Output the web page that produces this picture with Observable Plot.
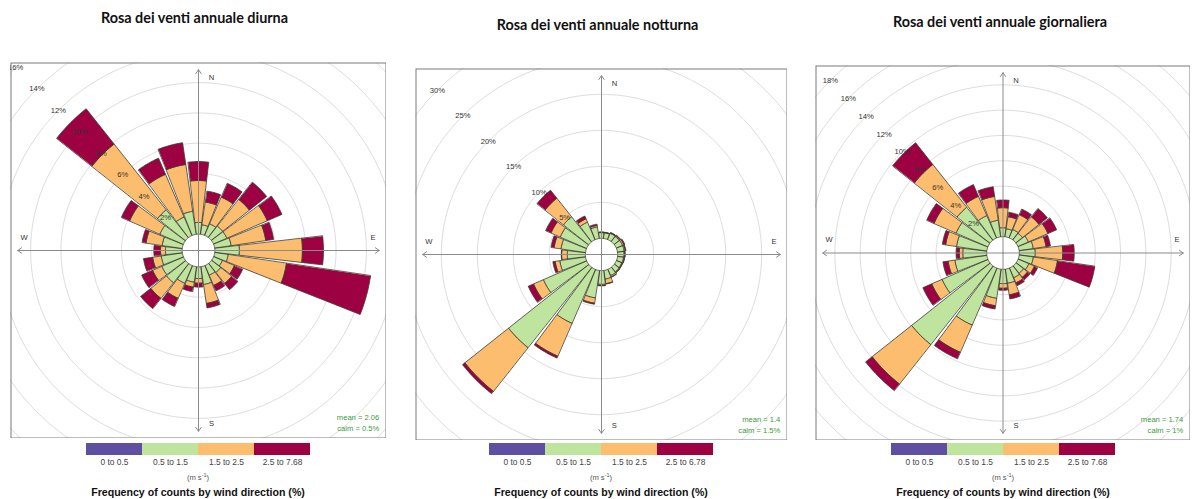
<!DOCTYPE html>
<html><head><meta charset="utf-8">
<script src="https://cdn.jsdelivr.net/npm/d3@7"></script>
<script src="https://cdn.jsdelivr.net/npm/@observablehq/plot@0.6"></script>
<style>
html,body{margin:0;padding:0;background:#fff;}
#root{position:relative;width:1197px;height:499px;overflow:hidden;font-family:"Liberation Sans",Arial,sans-serif;}
.title{position:absolute;font-family:Lato,"Open Sans",sans-serif;font-weight:700;font-size:14.4px;color:#111;white-space:nowrap;transform:translate(-50%,-50%);}
.abs{position:absolute;}
.unit{position:absolute;font-size:7.6px;color:#555;transform:translate(-50%,-50%);white-space:nowrap;}
.freq{position:absolute;font-size:10.6px;font-weight:700;color:#111;transform:translate(-50%,-50%);white-space:nowrap;}
</style></head><body><div id="root"></div>
<script>
// ---------- data ----------
const directions = [0,15,30,45,60,75,90,105,120,135,150,165,180,195,210,225,240,255,270,285,300,315,330,345];
const classColors = ["#5E4FA2","#BEE49E","#FDBD6F","#9E0142"];
const classesDiurna = ["0 to 0.5","0.5 to 1.5","1.5 to 2.5","2.5 to 7.68"];
const classesNotturna = ["0 to 0.5","0.5 to 1.5","1.5 to 2.5","2.5 to 6.78"];
const classesGiornaliera = ["0 to 0.5","0.5 to 1.5","1.5 to 2.5","2.5 to 7.68"];

const diurnaGreen  = [0.77,0.63,0.83,0.96,0.96,1.10,1.62,0.90,0.63,0.77,0.70,1.19,0.77,1.03,1.27,1.62,1.56,1.41,1.10,1.34,1.69,2.35,1.33,1.54];
const diurnaOrange = [2.77,1.52,1.92,2.25,2.91,2.31,4.16,3.89,0.86,0.92,0.73,1.26,0.31,0.33,1.08,1.32,0.66,0.57,0.33,1.08,2.18,5.54,3.07,3.12];
const diurnaRed    = [1.25,0.73,0.99,1.45,1.05,0.52,1.39,5.61,0.60,0.53,0.39,0.30,0.26,0.30,0.59,0.86,0.79,0.61,0.44,0.26,0.59,2.97,1.16,1.45];

const notturnaGreen  = [0.80,0.80,0.94,0.90,0.95,0.95,0.90,0.85,0.80,0.85,0.95,1.21,1.91,3.85,8.16,14.24,6.56,3.62,2.51,3.44,3.99,4.45,2.66,1.63];
const notturnaOrange = [0.05,0.05,0.08,0.15,0.20,0.15,0.10,0.10,0.10,0.10,0.20,0.64,0.14,0.74,4.97,7.74,1.49,0.65,0.79,0.97,1.39,3.29,0.50,0.21];
const notturnaRed    = [0.03,0.03,0.05,0.10,0.15,0.10,0.05,0.05,0.05,0.05,0.05,0.06,0.07,0.14,0.28,0.41,0.80,0.32,0.05,0.42,0.81,1.42,0.42,0.18];

const giornGreen  = [0.71,0.64,0.72,0.67,0.90,1.13,1.26,1.13,0.92,0.76,0.84,1.13,1.13,2.33,4.91,7.93,3.96,2.56,1.89,2.42,2.74,3.32,1.93,1.33];
const giornOrange = [1.58,0.96,1.28,1.67,1.68,1.02,2.17,1.93,0.48,0.40,0.44,0.92,0.37,0.59,2.34,3.98,0.89,0.54,0.27,0.87,1.90,4.32,1.66,1.90];
const giornRed    = [0.61,0.35,0.48,0.84,0.75,0.35,0.91,2.98,0.28,0.25,0.24,0.33,0.16,0.26,0.56,0.66,0.76,0.41,0.26,0.26,0.63,2.19,1.01,0.77];

const ringsDiurna = [2,4,6,8,10,12,14,16];
const ringsNotturna = [5,10,15,20,25,30];
const ringsGiorn = [2,4,6,8,10,12,14,16,18];

const titles = ["Rosa dei venti annuale diurna","Rosa dei venti annuale notturna","Rosa dei venti annuale giornaliera"];
const meanValues = ["2.06","1.4","1.74"];
const calmValues = ["0.5%","1.5%","1%"];

// ---------- layout ----------
const panels = [
  {title: titles[0], tx:194.5, ty:17, left:10, top:62, w:376, h:376, off:1.08, D:12.41,
   classes: classesDiurna, series:[diurnaGreen, diurnaOrange, diurnaRed], rings: ringsDiurna,
   mean: meanValues[0], calm: calmValues[0], legLeft:85},
  {title: titles[1], tx:597.5, ty:24, left:415, top:68, w:372, h:372, off:2.24, D:25.83,
   classes: classesNotturna, series:[notturnaGreen, notturnaOrange, notturnaRed], rings: ringsNotturna,
   mean: meanValues[1], calm: calmValues[1], legLeft:488},
  {title: titles[2], tx:1000, ty:20.5, left:815, top:65, w:375, h:375, off:1.29, D:14.82,
   classes: classesGiornaliera, series:[giornGreen, giornOrange, giornRed], rings: ringsGiorn,
   mean: meanValues[2], calm: calmValues[2], legLeft:890}
];
const halfWidth = 6.6; // degrees

const root = document.getElementById("root");
const rad = Math.PI / 180;

function rose(p) {
  const A = p.D / 1.04;
  const segClasses = p.classes.slice(1);
  const pts = [];
  directions.forEach((dir, i) => {
    let r0 = p.off;
    p.series.forEach((vals, j) => {
      const v = vals[i];
      const r1 = r0 + v;
      if (v > 0) {
        const id = i + "-" + j, cls = segClasses[j];
        const a0 = (dir - halfWidth) * rad, a1 = (dir + halfWidth) * rad, n = 8;
        for (let k = 0; k <= n; k++) { const a = a0 + (a1 - a0) * k / n; pts.push({id, cls, x: r1 * Math.sin(a), y: r1 * Math.cos(a)}); }
        for (let k = n; k >= 0; k--) { const a = a0 + (a1 - a0) * k / n; pts.push({id, cls, x: r0 * Math.sin(a), y: r0 * Math.cos(a)}); }
      }
      r0 = r1;
    });
  });
  const ringPts = [];
  p.rings.forEach(v => {
    const r = v + p.off;
    for (let k = 0; k <= 240; k++) { const a = k / 240 * 2 * Math.PI; ringPts.push({ring: v, x: r * Math.sin(a), y: r * Math.cos(a)}); }
  });
  const ringLabels = p.rings.map(v => ({label: v + "%", x: -(v + p.off) * Math.SQRT1_2, y: (v + p.off) * Math.SQRT1_2}));
  const arrows = [
    {x1:0,y1:0,x2:0,y2:A},{x1:0,y1:0,x2:0,y2:-A},{x1:0,y1:0,x2:-A,y2:0},{x1:0,y1:0,x2:A,y2:0}
  ];
  const compass = [
    {t:"N", x:0.072*A, y:0.958*A},{t:"S", x:0.072*A, y:-0.958*A},
    {t:"W", x:-0.965*A, y:0.072*A},{t:"E", x:0.965*A, y:0.072*A}
  ];
  const stats = [{t: "mean = " + p.mean + "\ncalm = " + p.calm, x: A, y: -A}];
  const font = "Liberation Sans, Arial, sans-serif";
  return Plot.plot({
    width: p.w, height: p.h, margin: 0,
    style: {fontFamily: font, background: "transparent", overflow: "hidden"},
    x: {domain: [-p.D, p.D], axis: null},
    y: {domain: [-p.D * (p.h/p.w), p.D * (p.h/p.w)], axis: null},
    color: {domain: p.classes, range: classColors},
    marks: [
      Plot.line(ringPts, {x: "x", y: "y", z: "ring", stroke: "#dddddd", strokeWidth: 1, clip: true}),
      Plot.line(pts, {x: "x", y: "y", z: "id", fill: "cls", stroke: "#3b3b2e", strokeWidth: 0.8, curve: "linear-closed", clip: true}),
      Plot.text(ringLabels, {x: "x", y: "y", text: "label", fontSize: 7.6, fill: "#333", clip: true}),
      Plot.arrow(arrows, {x1: "x1", y1: "y1", x2: "x2", y2: "y2", stroke: "#8a8a8a", strokeWidth: 1, headLength: 7, headAngle: 70}),
      Plot.text(compass, {x: "x", y: "y", text: "t", fontSize: 7.6, fill: "#333"}),
      Plot.text(stats, {x: "x", y: "y", text: "t", textAnchor: "end", lineAnchor: "bottom", lineHeight: 1.45, fontSize: 7.6, fill: "#3c9a3c"}),
      Plot.frame({stroke: "#7a7a7a", strokeWidth: 1, inset: 0.5})
    ]
  });
}

function legend(classes) {
  return Plot.plot({
    width: 226, height: 28, marginTop: 0, marginBottom: 16, marginLeft: 0, marginRight: 0,
    style: {fontFamily: "Liberation Sans, Arial, sans-serif", fontSize: "8.4px", color: "#444", background: "transparent"},
    x: {domain: classes, padding: 0, tickSize: 0, tickPadding: 4, label: null},
    color: {domain: classes, range: classColors},
    marks: [Plot.cell(classes, {x: d => d, fill: d => d})]
  });
}

panels.forEach(p => {
  const t = document.createElement("div");
  t.className = "title"; t.textContent = p.title;
  t.style.left = p.tx + "px"; t.style.top = p.ty + "px";
  root.appendChild(t);

  const box = document.createElement("div");
  box.className = "abs"; box.style.left = p.left + "px"; box.style.top = p.top + "px";
  box.appendChild(rose(p));
  root.appendChild(box);

  const lg = document.createElement("div");
  lg.className = "abs"; lg.style.left = p.legLeft + "px"; lg.style.top = "443px";
  lg.appendChild(legend(p.classes));
  root.appendChild(lg);

  const cx = p.legLeft + 113;
  const u = document.createElement("div");
  u.className = "unit"; u.innerHTML = "(m s<sup style='font-size:5.5px'>-1</sup>)";
  u.style.left = cx + "px"; u.style.top = "477px";
  root.appendChild(u);

  const f = document.createElement("div");
  f.className = "freq"; f.textContent = "Frequency of counts by wind direction (%)";
  f.style.left = cx + "px"; f.style.top = "492px";
  root.appendChild(f);
});
</script>
</body></html>
